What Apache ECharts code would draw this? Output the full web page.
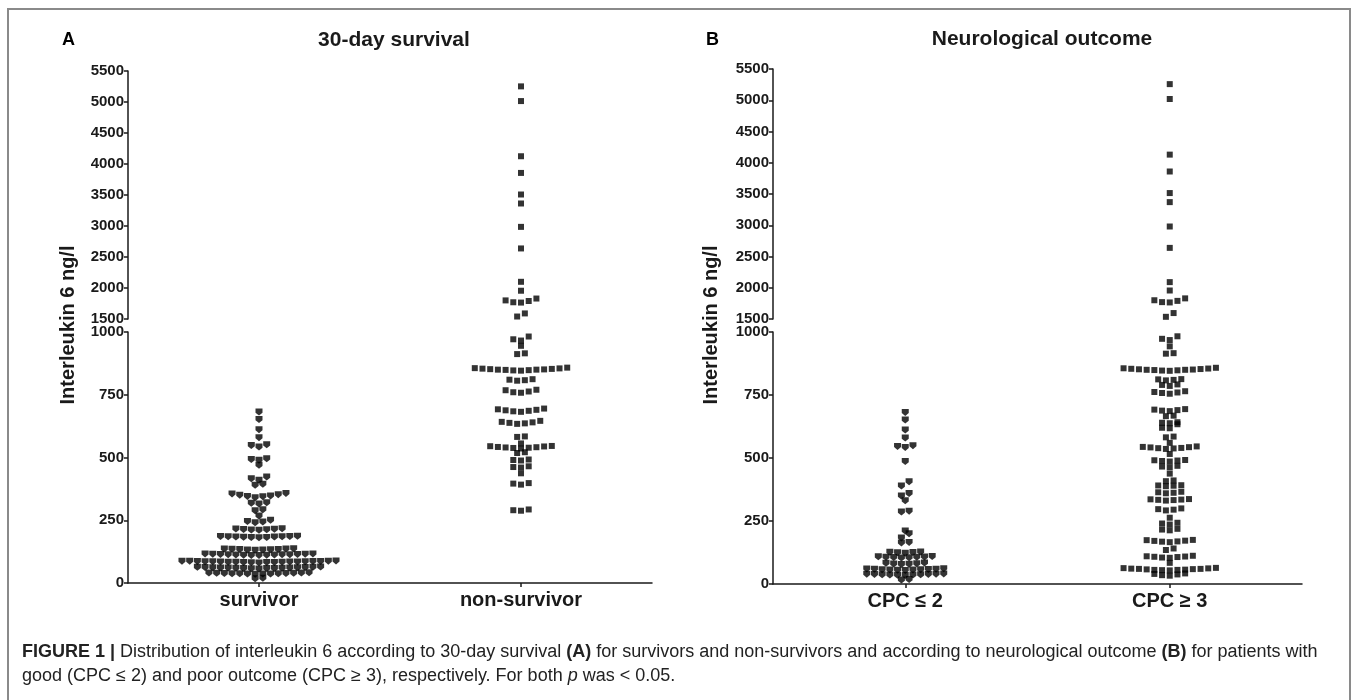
<!DOCTYPE html>
<html>
<head>
<meta charset="UTF-8">
<title>Interleukin 6</title>
<script src="https://cdn.jsdelivr.net/npm/echarts@6/dist/echarts.min.js"></script>
<style>
html,body{margin:0;padding:0;background:#fff}
#chart{width:1357px;height:700px}
</style>
</head>
<body>
<div id="chart"></div>
<script>
// values (ng/l)
var survivor = [681, 651, 611, 579, 548, 542, 551, 492, 489, 495, 469, 422, 415, 409, 393, 389,
  357, 350, 345, 352, 340, 344, 355, 347, 318, 315, 320, 292, 288, 267, 243, 245, 240, 250,
  213, 212, 215, 210, 214, 216, 211,
  183, 181, 185, 184, 182, 186, 180, 183, 185, 181, 184,
  133, 131, 135, 134, 132, 136, 130, 133, 135, 131,
  113, 111, 115, 114, 112, 116, 110, 113, 115, 111, 114, 112, 116, 113, 110,
  84, 82, 86, 85, 83, 87, 81, 84, 86, 82, 85, 83, 87, 80, 88, 84, 82, 86, 85, 83, 87,
  60, 58, 62, 61, 59, 63, 57, 60, 62, 58, 61, 59, 63, 56, 64, 60, 58,
  37, 36, 39, 38, 35, 40, 37, 39, 36, 41, 38, 37, 40, 36,
  17, 19];
var nonSurvivor = [5252, 5015, 4125, 3856, 3508, 3363, 2986, 2638, 2100, 1956,
  1830, 1790, 1765, 1770, 1800, 1590, 1540,
  982, 971, 966, 945, 915, 912,
  851, 849, 853, 847, 855, 850, 848, 852, 846, 854, 850, 856, 858,
  806, 810, 808, 812, 768, 760, 758, 763, 770,
  684, 690, 688, 692, 686, 695, 682, 634, 638, 642, 636, 646, 640,
  582, 584, 556, 538, 540, 542, 544, 546, 536, 541, 545, 539, 521, 518,
  488, 492, 490, 462, 460, 465, 437, 396, 392, 398, 290, 288, 293];
var cpcGood = [681, 651, 611, 579, 542, 546, 549, 486, 406, 389, 359, 349, 330, 286, 289,
  210, 199, 183, 163, 165,
  124, 122, 126, 125, 127,
  106, 104, 108, 105, 107, 103, 109, 106,
  80, 78, 82, 79, 83, 77,
  57, 55, 59, 56, 60, 58, 54, 61, 57, 59, 56,
  37, 35, 39, 36, 40, 38, 34, 37, 39, 36, 38,
  16, 18];
var cpcPoor = [5258, 5020, 4130, 3860, 3515, 3370, 2980, 2638, 2090, 1956,
  1830, 1790, 1765, 1770, 1800, 1595, 1535,
  983, 973, 968, 943, 914, 916,
  851, 849, 853, 847, 855, 850, 848, 852, 846, 854, 850, 856, 858,
  808, 810, 812, 813, 786, 790, 792, 755, 758, 760, 762, 765,
  686, 690, 692, 694, 688, 668, 666, 634, 638, 640, 642, 620, 618,
  582, 585, 560, 536, 538, 540, 542, 544, 546, 539, 543,
  516, 486, 488, 490, 491, 492, 463, 466, 469, 438,
  408, 411, 388, 390, 391, 392, 360, 362, 364, 366,
  331, 333, 334, 335, 336, 337, 292, 295, 297, 300,
  263, 236, 240, 243, 213, 216, 219,
  166, 168, 169, 171, 172, 174, 175, 135, 141,
  104, 105, 107, 108, 109, 110, 112, 84,
  54, 55, 56, 57, 58, 59, 60, 61, 62, 63, 64, 56, 60,
  33, 35, 38, 40, 42];
var catsA = ['survivor', 'non-survivor'];
var catsB = ['CPC \u2264 2', 'CPC \u2265 3'];
var upperRange = [1500, 5500], upperStep = 500;
var lowerRange = [0, 1000], lowerStep = 250;

var sans = "'Liberation Sans', Arial, sans-serif";
var ink = '#1a1a1a';
var pent = 'path://M0,0 L10,0 L10,6 L5,10 L0,6 Z';

// Prism-like rows: values close together share a row and spread out from the centre
function swarm(values, cat, step) {
  var s = values.slice().sort(function (a, b) { return a - b; });
  var rows = [], cur = null;
  s.forEach(function (v) {
    var hi = v > lowerRange[1];
    var bin = hi ? 75 : 18;
    if (cur && cur.hi === hi && v - cur.start < bin) cur.vals.push(v);
    else { cur = {start: v, hi: hi, vals: [v]}; rows.push(cur); }
  });
  var low = [], up = [];
  rows.forEach(function (r) {
    var n = r.vals.length, slots = [];
    for (var i = 0; i < n; i++) slots.push(i - (n - 1) / 2);
    slots.sort(function (a, b) { return Math.abs(a) - Math.abs(b) || a - b; });
    r.vals.forEach(function (v, i) {
      (r.hi ? up : low).push([cat + slots[i] * step, v]);
    });
  });
  return {low: low, up: up};
}

var sA1 = swarm(survivor, 1, 0.0294);
var sA2 = swarm(nonSurvivor, 2, 0.0294);
var sB1 = swarm(cpcGood, 1, 0.0291);
var sB2 = swarm(cpcPoor, 2, 0.0291);

function yAx(grid, range, step) {
  return {
    type: 'value', gridIndex: grid, min: range[0], max: range[1], interval: step,
    axisLine: {show: true, lineStyle: {color: ink, width: 1.5}},
    axisTick: {show: true, length: 4, lineStyle: {color: ink, width: 1.5}},
    splitLine: {show: false},
    axisLabel: {color: ink, fontSize: 15, fontWeight: 'bold', fontFamily: sans, margin: 4,
      formatter: function (v) { return String(v); }}
  };
}
function xHidden(grid) {
  return {type: 'value', gridIndex: grid, position: 'bottom', min: 0.5, max: 2.5, show: false};
}
function xCat(grid, cats) {
  return {
    type: 'category', gridIndex: grid, position: 'bottom', data: cats, boundaryGap: true,
    axisLine: {show: true, lineStyle: {color: ink, width: 1.5}},
    axisTick: {show: true, alignWithLabel: true, length: 4, lineStyle: {color: ink, width: 1.5}},
    axisLabel: {color: ink, fontSize: 20, fontWeight: 'bold', fontFamily: sans, margin: 7}
  };
}
function pts(data, x, y, sym, size) {
  return {type: 'scatter', xAxisIndex: x, yAxisIndex: y, data: data, symbol: sym,
    symbolSize: size, itemStyle: {color: '#000'}, clip: false, silent: true};
}

var chart = echarts.init(document.getElementById('chart'));
chart.setOption({
  animation: false,
  backgroundColor: '#fff',
  title: [
    {text: 'A', left: 57, top: 26, textStyle: {fontSize: 18, fontWeight: 'bold', color: '#000', fontFamily: sans}},
    {text: '30-day survival', left: 389, top: 25, textAlign: 'center', textStyle: {fontSize: 21, fontWeight: 'bold', color: ink, fontFamily: sans}},
    {text: 'B', left: 701, top: 26, textStyle: {fontSize: 18, fontWeight: 'bold', color: '#000', fontFamily: sans}},
    {text: 'Neurological outcome', left: 1037, top: 24, textAlign: 'center', textStyle: {fontSize: 21, fontWeight: 'bold', color: ink, fontFamily: sans}}
  ],
  grid: [
    {left: 128, top: 71, width: 524, height: 248},
    {left: 128, top: 332, width: 524, height: 251},
    {left: 773, top: 69, width: 529, height: 250},
    {left: 773, top: 332, width: 529, height: 252}
  ],
  xAxis: [xHidden(0), xHidden(1), xCat(1, catsA), xHidden(2), xHidden(3), xCat(3, catsB)],
  yAxis: [yAx(0, upperRange, upperStep), yAx(1, lowerRange, lowerStep), yAx(2, upperRange, upperStep), yAx(3, lowerRange, lowerStep)],
  series: [
    pts(sA1.up, 0, 0, pent, [7, 7]), pts(sA1.low, 1, 1, pent, [7, 7]),
    pts(sA2.up, 0, 0, 'rect', 6), pts(sA2.low, 1, 1, 'rect', 6),
    pts(sB1.up, 3, 2, pent, [7, 7]), pts(sB1.low, 4, 3, pent, [7, 7]),
    pts(sB2.up, 3, 2, 'rect', 6), pts(sB2.low, 4, 3, 'rect', 6)
  ],
  graphic: [
    {type: 'rect', shape: {x: 8, y: 9, width: 1342, height: 720}, style: {fill: 'none', stroke: '#8a8a8a', lineWidth: 2}, silent: true},
    {type: 'text', x: 68, y: 325, rotation: Math.PI / 2, style: {text: 'Interleukin 6 ng/l', fill: ink, font: 'bold 20px ' + sans, align: 'center', verticalAlign: 'middle'}},
    {type: 'text', x: 711, y: 325, rotation: Math.PI / 2, style: {text: 'Interleukin 6 ng/l', fill: ink, font: 'bold 20px ' + sans, align: 'center', verticalAlign: 'middle'}},
    {type: 'text', x: 22, y: 640, style: {
      text: '{b|FIGURE 1 |} Distribution of interleukin 6 according to 30-day survival {b|(A)} for survivors and non-survivors and according to neurological outcome {b|(B)} for patients with\ngood (CPC \u2264 2) and poor outcome (CPC \u2265 3), respectively. For both {i|p} was < 0.05.',
      font: '18px ' + sans, fill: '#222', lineHeight: 24,
      rich: {
        b: {fontWeight: 'bold', fontSize: 18, fontFamily: sans, fill: '#222', lineHeight: 24},
        i: {fontStyle: 'italic', fontSize: 18, fontFamily: sans, fill: '#222', lineHeight: 24}
      }}}
  ]
});
</script>
</body>
</html>
